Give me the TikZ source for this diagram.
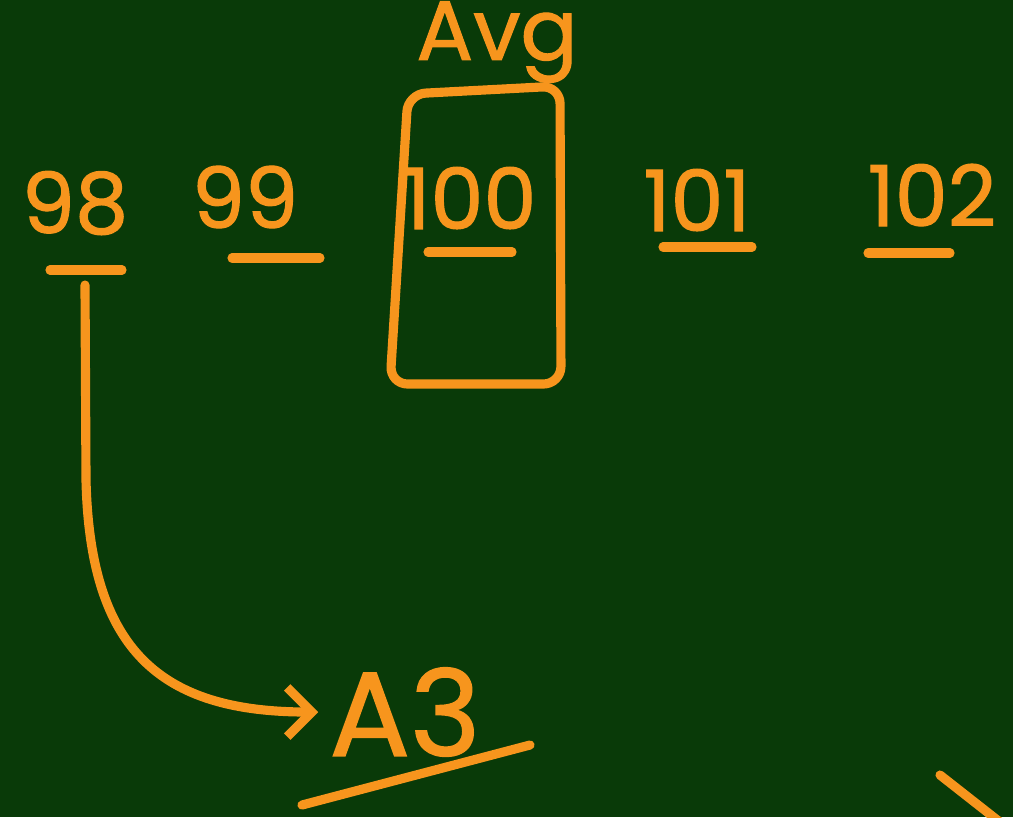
\documentclass[tikz,border=0pt]{standalone}
\usepackage{fontspec}
\newfontfamily\chalkfont{Poppins}[FakeBold=1.3]
\usetikzlibrary{arrows.meta,positioning}
\definecolor{BoardGreen}{HTML}{093A08}
\definecolor{ChalkOrange}{HTML}{F7951D}
\tikzset{chalk/.style={ChalkOrange,line width=2.6pt,line cap=round,line join=round},
  num/.style={text=ChalkOrange,font=\chalkfont\fontsize{24}{24}\selectfont,inner sep=0pt}}

\begin{document}
\begin{tikzpicture}[x=0.01cm,y=-0.01cm]
\fill[BoardGreen] (0,0) rectangle (1013,817);
\useasboundingbox (0,0) rectangle (1013,817);
\clip (0,0) rectangle (1013,817);
% the five values, each underlined
\foreach \x/\y/\lab/\ua/\ub/\uy in {75/203/98/50/122/270,245/197/99/232/320/258,470/198/100/428/512/252,697/200/101/663/752/247,932/195/102/868/950/253}{\node[num] (n\lab) at (\x,\y) {\lab};\draw[chalk] (\ua,\uy)--(\ub,\uy);}
\draw[chalk,rounded corners=5pt] (408,94)--(560,86)--(561,384)--(390,384)--cycle;
\node[num,font=\chalkfont\fontsize{24}{24}\selectfont] (avg) at (497,42) {Avg};
\node[num,font=\chalkfont\fontsize{34}{34}\selectfont] (a3) at (405,712) {A3};
\coordinate (tail) at (85,285);
\draw[chalk,-{Straight Barb[length=7pt,width=14pt]},shorten >=3pt] (tail)--(86,480) .. controls (90,650) and (160,712) .. (a3.west);
\draw[chalk] (302,805)--(530,745);
\draw[chalk] (940,775)--(1010,830);
\end{tikzpicture}
\end{document}
